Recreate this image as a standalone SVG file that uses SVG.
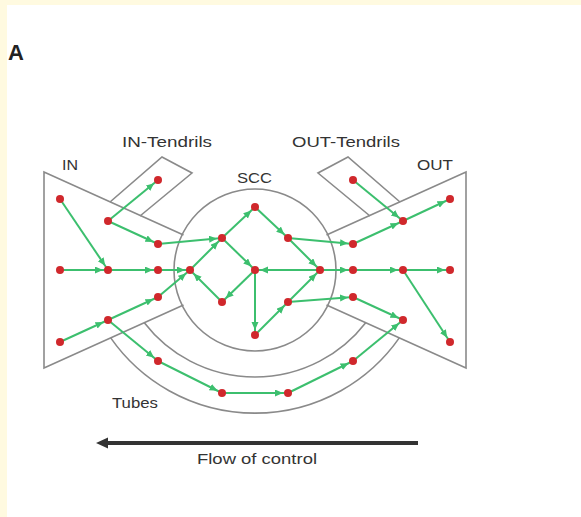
<svg xmlns="http://www.w3.org/2000/svg" width="581" height="517" viewBox="0 0 581 517">
<defs>
<marker id="ah" markerUnits="userSpaceOnUse" markerWidth="16" markerHeight="8" refX="13" refY="3.5" orient="auto">
<path d="M0,0 L8,3.5 L0,7 z" fill="#3cbf6e"/>
</marker>
</defs>
<style>
.bd{fill:none;stroke:#8a8a8a;stroke-width:1.6}
.e{stroke:#3cbf6e;stroke-width:2;fill:none;marker-end:url(#ah)}
.n{fill:#d0282c}
.t{font-family:"Liberation Sans",Arial,sans-serif;font-size:15px;fill:#333}
</style>
<rect x="0" y="0" width="581" height="517" fill="#fffae0"/>
<rect x="7" y="5" width="574" height="512" fill="#ffffff"/>
<text x="8" y="60" font-family="Liberation Sans,Arial,sans-serif" font-size="22" font-weight="bold" fill="#222">A</text>

<g id="regions">
<g id="in-region"><path class="bd" d="M183.5,235 L44,172 L44,368 L183.5,305"/></g>
<g id="out-region"><path class="bd" d="M326.5,235 L466,172 L466,368 L326.5,305"/></g>
<g id="scc-region"><circle class="bd" cx="255" cy="270" r="81"/></g>
<g id="in-tendril-region"><path class="bd" d="M110,202 L162,157 L192,173 L140,216"/></g>
<g id="out-tendril-region"><path class="bd" d="M400,202 L348,157 L318,173 L370,216"/></g>
<g id="tubes-region">
<path class="bd" d="M144.3,322.7 A140,140 0 0 0 365.7,322.7"/>
<path class="bd" d="M110.7,337.9 A176,176 0 0 0 399.3,337.9"/>
</g>
</g>

<g id="labels">
<text class="t" x="62" y="170" textLength="16" lengthAdjust="spacingAndGlyphs">IN</text>
<text class="t" x="122" y="147" textLength="90" lengthAdjust="spacingAndGlyphs">IN-Tendrils</text>
<text class="t" x="237" y="183" textLength="35" lengthAdjust="spacingAndGlyphs">SCC</text>
<text class="t" x="292" y="147" textLength="108" lengthAdjust="spacingAndGlyphs">OUT-Tendrils</text>
<text class="t" x="417" y="170" textLength="36" lengthAdjust="spacingAndGlyphs">OUT</text>
<text class="t" x="112" y="408" textLength="46" lengthAdjust="spacingAndGlyphs">Tubes</text>
<text class="t" x="197" y="464" textLength="120" lengthAdjust="spacingAndGlyphs">Flow of control</text>
</g>

<g id="flow-arrow">
<line x1="418" y1="443" x2="104" y2="443" stroke="#333" stroke-width="4"/>
<path d="M96,443 L108,437.5 L108,448.5 z" fill="#333"/>
</g>

<g id="connectors">
<line class="e" x1="60" y1="199" x2="108" y2="270"/>
<line class="e" x1="108" y1="221" x2="158" y2="180"/>
<line class="e" x1="108" y1="221" x2="158" y2="244"/>
<line class="e" x1="158" y1="244" x2="222" y2="238"/>
<line class="e" x1="60" y1="270" x2="108" y2="270"/>
<line class="e" x1="108" y1="270" x2="158" y2="270"/>
<line class="e" x1="158" y1="270" x2="190" y2="270"/>
<line class="e" x1="158" y1="297" x2="190" y2="270"/>
<line class="e" x1="60" y1="342" x2="108" y2="320"/>
<line class="e" x1="108" y1="320" x2="158" y2="297"/>
<line class="e" x1="108" y1="320" x2="158" y2="361"/>
<line class="e" x1="158" y1="361" x2="222" y2="393"/>
<line class="e" x1="222" y1="393" x2="288" y2="393"/>
<line class="e" x1="288" y1="393" x2="353" y2="361"/>
<line class="e" x1="353" y1="361" x2="403" y2="320"/>
<line class="e" x1="190" y1="270" x2="222" y2="238"/>
<line class="e" x1="222" y1="238" x2="255" y2="207"/>
<line class="e" x1="255" y1="207" x2="288" y2="238"/>
<line class="e" x1="288" y1="238" x2="320" y2="270"/>
<line class="e" x1="222" y1="238" x2="255" y2="270"/>
<line class="e" x1="255" y1="270" x2="222" y2="302"/>
<line class="e" x1="222" y1="302" x2="190" y2="270"/>
<line class="e" x1="320" y1="270" x2="255" y2="270"/>
<line class="e" x1="255" y1="270" x2="255" y2="335"/>
<line class="e" x1="255" y1="335" x2="288" y2="302"/>
<line class="e" x1="288" y1="302" x2="320" y2="270"/>
<line class="e" x1="288" y1="238" x2="353" y2="244"/>
<line class="e" x1="288" y1="302" x2="353" y2="297"/>
<line class="e" x1="320" y1="270" x2="353" y2="270"/>
<line class="e" x1="353" y1="270" x2="403" y2="270"/>
<line class="e" x1="403" y1="270" x2="450" y2="270"/>
<line class="e" x1="353" y1="244" x2="403" y2="221"/>
<line class="e" x1="403" y1="221" x2="450" y2="199"/>
<line class="e" x1="353" y1="180" x2="403" y2="221"/>
<line class="e" x1="403" y1="270" x2="450" y2="342"/>
<line class="e" x1="353" y1="297" x2="403" y2="320"/>
</g>

<g id="nodes">
<g id="in1"><circle class="n" cx="60" cy="199" r="4"/></g>
<g id="in2"><circle class="n" cx="108" cy="221" r="4"/></g>
<g id="in3"><circle class="n" cx="158" cy="244" r="4"/></g>
<g id="in4"><circle class="n" cx="60" cy="270" r="4"/></g>
<g id="in5"><circle class="n" cx="108" cy="270" r="4"/></g>
<g id="in6"><circle class="n" cx="158" cy="270" r="4"/></g>
<g id="in7"><circle class="n" cx="158" cy="297" r="4"/></g>
<g id="in8"><circle class="n" cx="108" cy="320" r="4"/></g>
<g id="in9"><circle class="n" cx="60" cy="342" r="4"/></g>
<g id="int1"><circle class="n" cx="158" cy="180" r="4"/></g>
<g id="scc1"><circle class="n" cx="255" cy="207" r="4"/></g>
<g id="scc2"><circle class="n" cx="222" cy="238" r="4"/></g>
<g id="scc3"><circle class="n" cx="288" cy="238" r="4"/></g>
<g id="scc4"><circle class="n" cx="190" cy="270" r="4"/></g>
<g id="scc5"><circle class="n" cx="255" cy="270" r="4"/></g>
<g id="scc6"><circle class="n" cx="320" cy="270" r="4"/></g>
<g id="scc7"><circle class="n" cx="222" cy="302" r="4"/></g>
<g id="scc8"><circle class="n" cx="288" cy="302" r="4"/></g>
<g id="scc9"><circle class="n" cx="255" cy="335" r="4"/></g>
<g id="out1"><circle class="n" cx="353" cy="244" r="4"/></g>
<g id="out2"><circle class="n" cx="403" cy="221" r="4"/></g>
<g id="out3"><circle class="n" cx="450" cy="199" r="4"/></g>
<g id="out4"><circle class="n" cx="353" cy="270" r="4"/></g>
<g id="out5"><circle class="n" cx="403" cy="270" r="4"/></g>
<g id="out6"><circle class="n" cx="450" cy="270" r="4"/></g>
<g id="out7"><circle class="n" cx="353" cy="297" r="4"/></g>
<g id="out8"><circle class="n" cx="403" cy="320" r="4"/></g>
<g id="out9"><circle class="n" cx="450" cy="342" r="4"/></g>
<g id="outt1"><circle class="n" cx="353" cy="180" r="4"/></g>
<g id="tube1"><circle class="n" cx="158" cy="361" r="4"/></g>
<g id="tube2"><circle class="n" cx="222" cy="393" r="4"/></g>
<g id="tube3"><circle class="n" cx="288" cy="393" r="4"/></g>
<g id="tube4"><circle class="n" cx="353" cy="361" r="4"/></g>
</g>
</svg>
